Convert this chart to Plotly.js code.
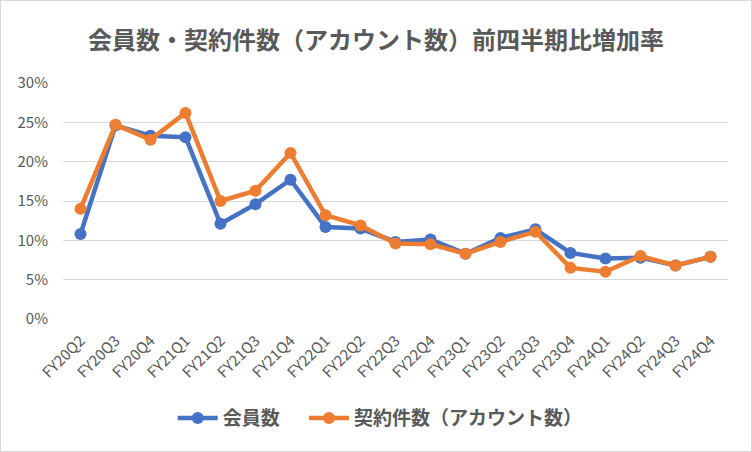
<!DOCTYPE html>
<html>
<head>
<meta charset="utf-8">
<script src="https://cdn.plot.ly/plotly-3.0.1.min.js"></script>
<style>
  html, body { margin: 0; padding: 0; background: #fff; }
  #chart { width: 752px; height: 452px; box-sizing: border-box; border: 1px solid #d9d9d9; }
</style>
</head>
<body>
<div id="chart"></div>
<script>
const quarters = ['FY20Q2', 'FY20Q3', 'FY20Q4', 'FY21Q1', 'FY21Q2', 'FY21Q3', 'FY21Q4',
  'FY22Q1', 'FY22Q2', 'FY22Q3', 'FY22Q4', 'FY23Q1', 'FY23Q2', 'FY23Q3', 'FY23Q4',
  'FY24Q1', 'FY24Q2', 'FY24Q3', 'FY24Q4'];

// 会員数 前四半期比
const members = [0.108, 0.246, 0.233, 0.231, 0.121, 0.146, 0.177,
  0.117, 0.115, 0.098, 0.101, 0.083, 0.103, 0.114, 0.084,
  0.077, 0.078, 0.068, 0.079];

// 契約件数（アカウント数） 前四半期比
const accounts = [0.140, 0.247, 0.228, 0.262, 0.150, 0.163, 0.211,
  0.132, 0.119, 0.096, 0.095, 0.083, 0.098, 0.111, 0.065,
  0.060, 0.080, 0.068, 0.079];

const FONT = '"Noto Sans CJK JP", "Noto Sans", sans-serif';
const GRAY = '#595959';

const traces = [
  {
    x: quarters, y: members, name: '会員数',
    type: 'scatter', mode: 'lines+markers',
    line: { color: '#4472C4', width: 4.5 },
    marker: { color: '#4472C4', size: 12 },
    legend: 'legend'
  },
  {
    x: quarters, y: accounts, name: '契約件数（アカウント数）',
    type: 'scatter', mode: 'lines+markers',
    line: { color: '#ED7D31', width: 4.5 },
    marker: { color: '#ED7D31', size: 12 },
    legend: 'legend2'
  }
];

const legendFont = { family: FONT, size: 19, color: GRAY, weight: 'bold' };

const layout = {
  width: 750,
  height: 450,
  margin: { t: 82, b: 132, l: 62, r: 23 },
  paper_bgcolor: '#fff',
  plot_bgcolor: '#fff',
  font: { family: FONT, color: GRAY },
  title: {
    text: '会員数・契約件数（アカウント数）前四半期比増加率',
    font: { family: FONT, size: 24, color: GRAY, weight: 'bold' },
    x: 0.5, xanchor: 'center',
    y: 0.912, yref: 'container', yanchor: 'middle'
  },
  xaxis: {
    type: 'category',
    range: [-0.5, quarters.length - 0.5],
    tickangle: -45,
    tickfont: { family: FONT, size: 15, color: GRAY },
    ticklabelstandoff: 9,
    showgrid: false,
    zeroline: false,
    showline: false,
    ticks: ''
  },
  yaxis: {
    range: [0, 0.3],
    dtick: 0.05,
    tickformat: '.0%',
    tickfont: { family: FONT, size: 15, color: GRAY },
    ticklabelstandoff: 14,
    gridcolor: '#d9d9d9',
    gridwidth: 1,
    zeroline: false,
    showline: false,
    ticks: ''
  },
  showlegend: true,
  legend: {
    orientation: 'h',
    x: 0.165, xanchor: 'left',
    y: -0.42, yanchor: 'middle',
    font: legendFont,
    itemwidth: 40
  },
  legend2: {
    orientation: 'h',
    x: 0.3624, xanchor: 'left',
    y: -0.42, yanchor: 'middle',
    font: legendFont,
    itemwidth: 40
  }
};

Plotly.newPlot('chart', traces, layout, { displayModeBar: false, staticPlot: true });
</script>
</body>
</html>
